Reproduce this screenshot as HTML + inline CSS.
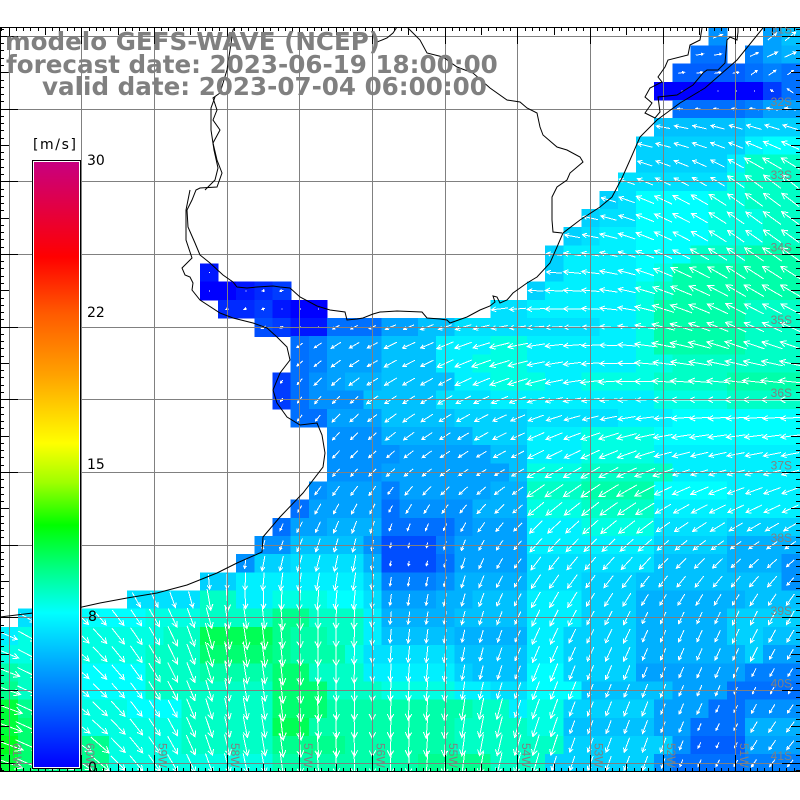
<!DOCTYPE html>
<html><head><meta charset="utf-8">
<style>
html,body{margin:0;padding:0;background:#fff;width:800px;height:800px;overflow:hidden}
svg{display:block}
.t{font-family:"DejaVu Sans","Liberation Sans",sans-serif;font-weight:bold;font-size:24.6px;fill:#808080}
.c{font-family:"DejaVu Sans","Liberation Sans",sans-serif;font-size:14px;fill:#000}
.l{font-family:"Liberation Sans","DejaVu Sans",sans-serif;font-size:12px;fill:#808080}
</style></head><body>
<svg id="s" xmlns="http://www.w3.org/2000/svg" width="800" height="800" viewBox="0 0 800 800">
<defs>
<linearGradient id="cb" x1="0" y1="0" x2="0" y2="1">
<stop offset="0" stop-color="#c80080"/><stop offset="0.08" stop-color="#e4003f"/><stop offset="0.157" stop-color="#ff0000"/>
<stop offset="0.25" stop-color="#ff5a00"/><stop offset="0.35" stop-color="#ffa000"/><stop offset="0.465" stop-color="#ffff00"/>
<stop offset="0.53" stop-color="#9fff00"/><stop offset="0.6" stop-color="#00ff00"/><stop offset="0.67" stop-color="#00ff80"/>
<stop offset="0.745" stop-color="#00ffff"/><stop offset="0.87" stop-color="#0080ff"/><stop offset="1" stop-color="#0000ff"/>
</linearGradient>
<clipPath id="pc"><rect x="0" y="27.3" width="800" height="744.4"/></clipPath>
</defs>
<rect width="800" height="800" fill="#fff"/>
<g id="cells" clip-path="url(#pc)" shape-rendering="crispEdges"></g>
<g id="arr" clip-path="url(#pc)"></g>
<g id="grid" stroke="#808080" stroke-width="1" shape-rendering="crispEdges"></g>
<g fill="none" stroke="#000" stroke-width="1" clip-path="url(#pc)">
<polyline points="763,28 737,60 705,88 680,103 657,120 640,137 630,160 622,178 612,197 600,207 580,220 563,233 557,247 550,263 537,277 527,283 513,293 507,300 500,303 497,297 493,296 495,302 490,306 480,310 467,317 450,323 447,320 440,319 427,318 422,312 397,311 380,312 373,314 363,318 357,319 347,320 345,312 330,310 317,306 300,297 290,288 280,287 273,286 257,287 247,288 237,287 233,282 223,275 210,263 200,255 195,243 188,227 187,210 192,200 196,190 200,188 217,187 222,173 217,160 213,143 220,130 213,120 217,110 213,98 220,93 227,70 230,50 233,30 235,27"/>
<polyline points="205,190 215,180 218,168 214,150 211,130 211,108 215,97"/>
<polyline points="190,190 186,210 186,240 192,258 186,264 182,268 185,275 190,277 193,283 192,290 200,300 220,313 233,318 253,323 267,328 277,337 287,347 290,360 280,373 273,390 277,403 287,417 300,425 317,423 322,435 325,453 323,467 303,493 280,517 263,537 262,552 237,563 217,573 187,585 157,593 127,598 100,603 82,607 33,613 0,617"/>
<polyline points="407,27 420,40 427,53 443,57 457,67 473,73 490,88 507,100 520,102 527,108 537,113 540,127 543,135 557,147 567,150 580,157 583,162 570,173 567,180 557,187 552,197 552,220 553,232 562,233"/>
<polyline points="377,42 387,38 393,33 397,27"/>
<polyline points="702,28 700,40 690,45 688,55 668,60 665,67 658,77 662,82 650,88 645,97 652,103 645,113 655,118 660,112 658,97 677,95 693,85 703,73 707,70 718,70 725,63 727,40 730,37 737,40 738,32 738,27"/>
</g>
<g id="ticks" stroke="#000" stroke-width="1" shape-rendering="crispEdges"></g>
<g id="labs"></g>
<text class="t" x="5" y="50">modelo GEFS-WAVE (NCEP)</text>
<text class="t" x="6" y="73">forecast date: 2023-06-19 18:00:00</text>
<text class="t" x="42" y="95">valid date: 2023-07-04 06:00:00</text>
<rect x="32.5" y="160.5" width="48" height="608" fill="#fff" stroke="#000" stroke-width="1"/>
<rect x="34" y="162" width="45" height="605" fill="url(#cb)"/>
<text class="c" x="33" y="149" style="letter-spacing:1.6px">[m/s]</text>
<text class="c" x="87" y="165">30</text>
<text class="c" x="87" y="317">22</text>
<text class="c" x="87" y="469">15</text>
<text class="c" x="88" y="621">8</text>
<text class="c" x="88" y="772">0</text>
</svg>
<script>
(function(){
var D=function(n){return new Array(n+1).join('.');};
var rows=[
D(39)+"I..JL",
D(38)+"GG.HJK",
D(37)+"FFFFGHG",
D(36)+"AAAAAADG",
D(37)+"GGGGHJJ",
D(36)+"LLLLLMMM",
D(35)+"MMMMMMOPP",
D(35)+"MMMMMORRR",
D(34)+"NNNNNNQRRR",
D(33)+"MNPPPPQQRRR",
D(32)+"MNNPPPPQQQRR",
D(31)+"MNOOPPPPQQQRR",
D(30)+"MOOOOPPPRRRSSS",
D(11)+"B"+D(18)+"MOOOOPQSSSSSSS",
D(11)+"AABCD"+D(13)+"MOOOOOQRSSSSSSS",
D(12)+"CCDBAA"+D(9)+"NNOOOOOOQSSSSSRRR",
D(14)+"EDBBGGGJJLLNNNNNNNNOOQSSSSSRRR",
D(16)+"GH"+"JJJ"+"LLL"+"OOO"+"QQ"+"OOOOOO"+"Q"+"SSSSS"+"RRR",
D(16)+"GH"+"JJJ"+"LLL"+"OO"+"QQQ"+"OOOOOO"+"QQ"+"RRRRRRR",
D(15)+"DGIJKK"+"LLLL"+"OO"+"QQQ"+"OO"+"QQQQ"+"RRRR"+"SSSS",
D(15)+"DG"+"III"+"LLLL"+"NNN"+"OOOOOOOOO"+"QQQQ"+"RRRR",
D(16)+"GG"+"JJJ"+"LLLL"+"MMMM"+"NNNNN"+"OOO"+"PPPPPPP",
D(18)+"III"+"KKKKK"+"MMM"+"OOO"+"QQQQ"+"PPPPPPPP",
D(18)+"IIII"+"JJJJJ"+"LL"+"OOO"+"QQQQ"+"OOOOOOOO",
D(18)+"III"+"JJJJJJJ"+"L"+"QQQ"+"RRRRR"+"OOOOOOO",
D(17)+"I"+"JJJ"+"H"+"JJJJJ"+"KK"+"RRR"+"SSSS"+"PPPP"+"OOOO",
D(16)+"G"+"JJJJ"+"G"+"IIII"+"KKK"+"QQQ"+"RRRR"+"OOOOOOOO",
D(15)+"G"+"JJ"+"KKK"+"GGGG"+"I"+"JJJ"+"OOO"+"QQQQ"+"NNNN"+"MMMM",
D(14)+"II"+"LLLL"+"I"+"EEE"+"H"+"JJJJ"+"OOO"+"OOOO"+"MMMM"+"KKKK",
D(13)+"I"+"MM"+"NNNN"+"K"+"EEE"+"G"+"JJJJ"+"NNN"+"NNNN"+"LLLL"+"KKK"+"I",
D(11)+"MM"+"OO"+"OOOOO"+"M"+"HHH"+"I"+"KKKK"+"NNN"+"MMM"+"LLLLL"+"LLL"+"I",
D(7)+"NNNN"+"RR"+"OO"+"QQQ"+"PP"+"N"+"JJJ"+"KK"+"LLL"+"OOO"+"MMM"+"KKKKKK"+"LLL",
D(1)+"NOPPPPP"+"QQQ"+"RRRR"+"TT"+"RRR"+"O"+"KKKK"+"LLLL"+"OOO"+"MMM"+"KKKKK"+"MMMM",
"O"+"Q"+"QQ"+"QQQQQ"+"RR"+"VVVV"+"TSS"+"RR"+"O"+"LLLL"+"KKKK"+"OO"+"MMMM"+"KKKKK"+"MM"+"LL",
"Q"+"Q"+"QQ"+"QQQQ"+"RRR"+"UUUU"+"TS"+"SS"+"Q"+"NNNNN"+"LLLL"+"OO"+"MMMM"+"KKKKKK"+"M"+"JJ",
"S"+"R"+"QP"+"PPPP"+"RRR"+"SSSS"+"UU"+"RRR"+"OOOOO"+"M"+"LLL"+"PP"+"MMMM"+"JJJJJJ"+"HHH",
"T"+"R"+"QQ"+"PPPP"+"RRRRRRR"+"UUU"+"RRR"+"QQQQ"+"OO"+"NN"+"PPP"+"LLLLL"+"JJJ"+"GGGG",
"W"+"T"+"RR"+"QQQ"+"PPP"+"RRRRR"+"UUU"+"SSSSSSSS"+"RR"+"O"+"QQ"+"MMMMM"+"JJJ"+"GG"+"III",
"W"+"U"+"SS"+"QQQ"+"QQQ"+"RRRRR"+"VV"+"SSSSSSSS"+"RRRR"+"QQ"+"LLLLL"+"JJ"+"GGG"+"KKK",
"X"+"U"+"TT"+"TT"+"QQQQ"+"RRRRR"+"TTTT"+"SSSSSS"+"RRRR"+"RR"+"MMMMMM"+"I"+"FFF"+"JJJ",
"W"+"U"+"TT"+"TT"+"QQQQQQQQQ"+"SSSSSSSS"+"TTTT"+"RR"+"R"+"MMMMMM"+"I"+"GGGG"+"HHH"
];
var CW=18.17,Y0=27.3;
var st=[[7.5,0,255,255],[12,0,255,0],[16,255,255,0],[22.5,255,96,0],[25.2,255,0,0],[30,200,0,128]];
function cm(v){
 if(v<=7.5){var g=Math.round(255*Math.pow(Math.max(0,v)/7.5,0.9));return 'rgb(0,'+g+',255)';}
 for(var i=0;i<st.length-1;i++){var a=st[i],b=st[i+1];if(v<=b[0]||i==st.length-2){var t=Math.max(0,Math.min(1,(v-a[0])/(b[0]-a[0])));return 'rgb('+Math.round(a[1]+t*(b[1]-a[1]))+','+Math.round(a[2]+t*(b[2]-a[2]))+','+Math.round(a[3]+t*(b[3]-a[3]))+')';}}}
var A=[
[185,185,185,185,185,185,185,185,185,185,185,185],
[185,185,185,185,185,185,185,185,185,185,190,190],
[195,195,195,195,195,195,195,195,195,205,215,220],
[185,185,185,185,185,185,185,185,190,205,215,215],
[150,150,150,150,150,155,160,172,180,195,205,205],
[125,125,125,125,125,145,150,160,172,180,180,180],
[130,130,130,130,130,135,145,150,150,160,165,165],
[40,60,80,100,112,100,105,130,135,140,145,145],
[25,45,60,80,88,95,100,115,118,115,115,120],
[20,40,58,78,85,92,95,110,112,112,115,125],
[20,35,55,75,85,90,95,105,110,110,120,135]
];
function ang(r,c){
 if(r==0) return c>=42?-40:-20;
 if(r==1) return c>=41?-25:-10;
 if(r==2) return c>=41?-35:-10;
 if(r==3) return c>=42?215:-70;
 var R=r/4,C=c/4,r0=Math.min(9,Math.floor(R)),c0=Math.min(10,Math.floor(C)),fr=R-r0,fc=C-c0;
 return A[r0][c0]*(1-fr)*(1-fc)+A[r0+1][c0]*fr*(1-fc)+A[r0][c0+1]*(1-fr)*fc+A[r0+1][c0+1]*fr*fc;
}
function f(x){return x.toFixed(1);}
var cells='',arr='';
for(var r=0;r<rows.length;r++){var s=rows[r];for(var c=0;c<44;c++){var ch=s.charAt(c);if(!ch||ch=='.')continue;
 var v=(ch.charCodeAt(0)-65)*0.5;var x=c*CW,y=Y0+r*CW;
 cells+='<rect x="'+x.toFixed(2)+'" y="'+y.toFixed(2)+'" width="'+(CW+0.6).toFixed(2)+'" height="'+(CW+0.6).toFixed(2)+'" fill="'+cm(v)+'"/>';
 var a=ang(r,c)*Math.PI/180,L=2.55*v,cx=x+CW/2,cy=y+CW/2;
 if(L<1.5){arr+='M'+f(cx)+' '+f(cy)+'h1';}
 else{var dx=Math.cos(a),dy=Math.sin(a),tx=cx-dx*L/2,ty=cy-dy*L/2,hx=cx+dx*L/2,hy=cy+dy*L/2,h=Math.max(2.5,0.3*L),b=28*Math.PI/180;
  arr+='M'+f(tx)+' '+f(ty)+'L'+f(hx)+' '+f(hy)+'M'+f(hx-h*Math.cos(a-b))+' '+f(hy-h*Math.sin(a-b))+'L'+f(hx)+' '+f(hy)+'L'+f(hx-h*Math.cos(a+b))+' '+f(hy-h*Math.sin(a+b));}
}}
document.getElementById('cells').innerHTML=cells;
document.getElementById('arr').innerHTML='<path d="'+arr+'" fill="none" stroke="#fff" stroke-width="1" shape-rendering="crispEdges"/>';
var g='';
for(var m=0;m<11;m++){var gx=Math.floor(9.1+72.68*m)+0.5;g+='<line x1="'+gx+'" y1="27.3" x2="'+gx+'" y2="771.5"/>';
 var gy=Math.floor(36.4+72.68*m)+0.5;g+='<line x1="0" y1="'+gy+'" x2="800" y2="'+gy+'"/>';}
document.getElementById('grid').innerHTML=g;
var t='<line x1="0" y1="27.5" x2="800" y2="27.5"/><line x1="0" y1="771.5" x2="800" y2="771.5"/><line x1="0.5" y1="27" x2="0.5" y2="772"/>';
for(var k=-1;;k++){var xx=9.1+7.268*k;if(xx>=800)break;if(xx<0)continue;var len=(k%10==0)?17:((k%5==0)?8:4);xx=Math.floor(xx)+0.5;
 t+='<line x1="'+xx+'" y1="27" x2="'+xx+'" y2="'+(27+len)+'"/><line x1="'+xx+'" y1="772" x2="'+xx+'" y2="'+(772-len)+'"/>';}
for(var k=-1;;k++){var yy=36.4+7.268*k;if(yy>=771)break;if(yy<27.3)continue;var len=(k%10==0)?18:((k%5==0)?9:4);yy=Math.floor(yy)+0.5;
 t+='<line x1="0" y1="'+yy+'" x2="'+len+'" y2="'+yy+'"/><line x1="800" y1="'+yy+'" x2="'+(800-len)+'" y2="'+yy+'"/>';}
document.getElementById('ticks').innerHTML=t;
var l='<g clip-path="url(#pc)">';
for(var m=0;m<11;m++){var gy=36.4+72.68*m;l+='<text class="l" x="792" y="'+(gy-3).toFixed(1)+'" text-anchor="end">'+(31+m)+'S</text>';
 var gx=9.1+72.68*m;l+='<text class="l" transform="translate('+(gx+4).toFixed(1)+',743) rotate(90)">'+(61-m)+'W</text>';}
l+='</g>';
document.getElementById('labs').innerHTML=l;
})();
</script>
</body></html>
